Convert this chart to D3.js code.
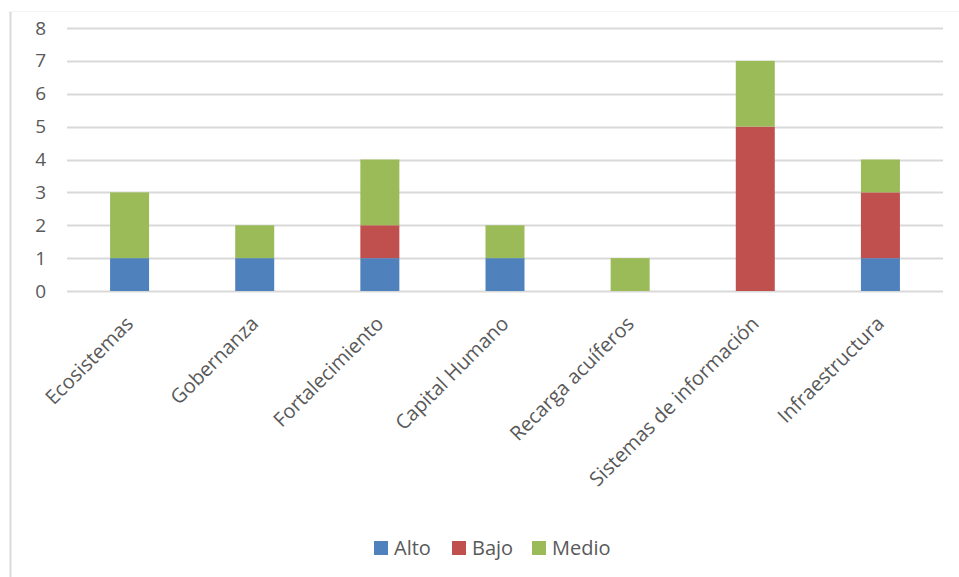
<!DOCTYPE html>
<html><head><meta charset="utf-8">
<script src="https://cdn.jsdelivr.net/npm/d3@7"></script>
<style>body{margin:0;background:#fff}svg{display:block;font-family:"Open Sans",sans-serif}</style>
</head><body>
<svg id="c" width="959" height="577"></svg>
<script>
const categories = ["Ecosistemas","Gobernanza","Fortalecimiento","Capital Humano","Recarga acuíferos","Sistemas de información","Infraestructura"];
const seriesNames = ["Alto","Bajo","Medio"];
const alto  = [1,1,1,1,0,0,1];
const bajo  = [0,0,1,0,0,5,2];
const medio = [2,1,2,1,1,2,1];
const yTicks = [0,1,2,3,4,5,6,7,8];
const colors = ["#4F81BD","#C0504D","#9BBB59"];

const table = categories.map((c,i)=>({cat:c, Alto:alto[i], Bajo:bajo[i], Medio:medio[i]}));
const stacked = d3.stack().keys(seriesNames)(table);

const svg = d3.select("#c");
const m = {left:67, right:943, top:28, bottom:291};
const x = d3.scaleBand().domain(categories).range([m.left,m.right]).paddingInner(0.695).paddingOuter(0.3475);
const y = d3.scaleLinear().domain([0,8]).range([m.bottom,m.top]);

// chart border
svg.append("line").attr("x1",10.5).attr("x2",10.5).attr("y1",11).attr("y2",577).attr("stroke","#D9D9D9").attr("stroke-width",2);
svg.append("line").attr("x1",10).attr("x2",959).attr("y1",11.5).attr("y2",11.5).attr("stroke","#F4F4F4").attr("stroke-width",1);

// gridlines
svg.append("g").selectAll("line").data(yTicks).join("line")
  .attr("x1",m.left).attr("x2",m.right)
  .attr("y1",d=>Math.round(y(d))+0.5).attr("y2",d=>Math.round(y(d))+0.5)
  .attr("stroke","#D9D9D9").attr("stroke-width",2);

// y axis labels
const yAxis = d3.axisLeft(y).tickValues(yTicks).tickSize(0).tickPadding(0);
const yg = svg.append("g").attr("transform","translate(46,0)").call(yAxis);
yg.select(".domain").remove();
yg.selectAll("text").attr("font-size",19).attr("fill","#595959").attr("font-family","Open Sans, sans-serif");

// bars
const bw = 39;
svg.append("g").selectAll("g").data(stacked).join("g")
  .attr("fill",(d,i)=>colors[i])
  .selectAll("rect").data(d=>d).join("rect")
  .attr("x",d=>x(d.data.cat)+x.bandwidth()/2-bw/2)
  .attr("width",bw)
  .attr("y",d=>y(d[1]))
  .attr("height",d=>y(d[0])-y(d[1]));

// x axis labels
const xAxis = d3.axisBottom(x).tickSize(0).tickPadding(0);
const xg = svg.append("g").attr("transform","translate(0,"+m.bottom+")").call(xAxis);
xg.select(".domain").remove();
xg.selectAll("text")
  .attr("font-size",20).attr("fill","#595959").attr("font-family","Open Sans, sans-serif")
  .attr("text-anchor","end").attr("dy",0).attr("y",0)
  .attr("transform","translate(5,34) rotate(-45)");

// legend
const legendItems = [{sx:374,tx:394},{sx:452,tx:472},{sx:532,tx:552}];
const lg = svg.append("g");
legendItems.forEach((it,i)=>{
  lg.append("rect").attr("x",it.sx).attr("y",541).attr("width",14).attr("height",14).attr("fill",colors[i]);
  lg.append("text").attr("x",it.tx).attr("y",555).attr("font-size",20).attr("fill","#595959").text(seriesNames[i]);
});
</script>
</body></html>
